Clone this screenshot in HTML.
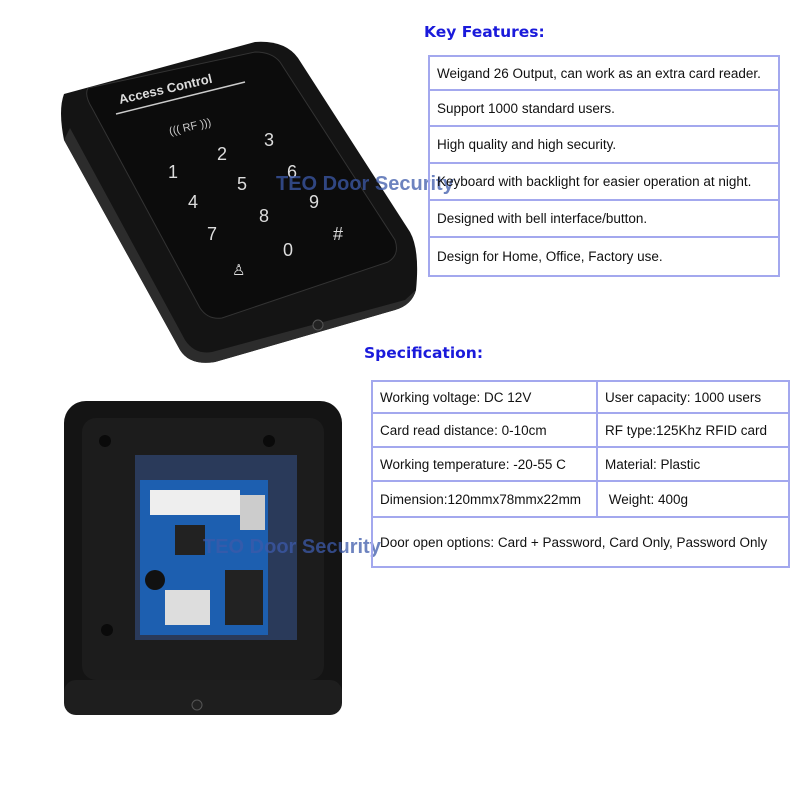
<!DOCTYPE html>
<html><head><style>
body{margin:0;width:800px;height:800px;background:#fff;position:relative;overflow:hidden;font-family:"Liberation Sans",Arial,sans-serif}
.h{position:absolute;color:#1a1adb;font-weight:bold;font-size:15.5px;font-family:"DejaVu Sans",sans-serif}
table{position:absolute;border-collapse:collapse;font-size:13.5px;color:#111;table-layout:fixed}
td{border:2px solid #a3a8ee;padding:0 7px;white-space:nowrap;overflow:hidden}
</style></head><body>
<svg width="800" height="800" style="position:absolute;left:0;top:0">
<path d="M64,94 L255,42 Q285,40 298,58 L410,232 Q420,250 416,290 Q412,305 395,310 L215,362 Q190,366 180,350 L64,140 Q58,110 64,94Z" fill="#141414"/>
<path d="M64,140 L180,350 Q190,366 215,362 L395,310 Q412,305 416,290 L405,300 L212,352 Q195,355 185,340 L70,128Z" fill="#2c2c2c"/>
<path d="M88,88 L255,52 Q272,52 280,62 L395,240 Q400,255 388,262 L222,318 Q208,320 200,308 L92,108 Q84,95 88,88Z" fill="#0c0c0c" stroke="#333" stroke-width="1"/>
<text x="120" y="104" fill="#ddd" font-size="13" font-weight="bold" transform="rotate(-13 120 104)">Access Control</text>
<line x1="116" y1="114" x2="245" y2="82" stroke="#ccc" stroke-width="1.5"/>
<text x="170" y="135" fill="#ccc" font-size="11" transform="rotate(-13 170 135)">((( RF )))</text>
<g fill="#ddd" font-size="18">
<text x="168" y="178">1</text><text x="217" y="160">2</text><text x="264" y="146">3</text>
<text x="188" y="208">4</text><text x="237" y="190">5</text><text x="287" y="178">6</text>
<text x="207" y="240">7</text><text x="259" y="222">8</text><text x="309" y="208">9</text>
<text x="232" y="275" font-size="15">♙</text><text x="283" y="256">0</text><text x="333" y="240">#</text>
</g>
<circle cx="318" cy="325" r="5" fill="#222" stroke="#555"/>
<rect x="64" y="401" width="278" height="314" rx="22" fill="#141414"/>
<rect x="82" y="418" width="242" height="262" rx="14" fill="#1c1c1c"/>
<rect x="64" y="680" width="278" height="35" rx="12" fill="#1e1e1e"/>
<circle cx="197" cy="705" r="5" fill="#222" stroke="#555"/>
<circle cx="105" cy="441" r="6" fill="#0a0a0a"/><circle cx="269" cy="441" r="6" fill="#0a0a0a"/>
<circle cx="107" cy="630" r="6" fill="#0a0a0a"/><circle cx="284" cy="630" r="6" fill="#0a0a0a"/>
<rect x="135" y="455" width="162" height="185" fill="#2a3a5a"/>
<rect x="140" y="480" width="128" height="155" fill="#1d5fb0"/>
<rect x="150" y="490" width="90" height="25" fill="#eee"/>
<rect x="175" y="525" width="30" height="30" fill="#222"/>
<circle cx="155" cy="580" r="10" fill="#111"/>
<rect x="165" y="590" width="45" height="35" fill="#ddd"/>
<rect x="225" y="570" width="38" height="55" fill="#222"/>
<rect x="240" y="495" width="25" height="35" fill="#ccc"/>
</svg>
<div style="position:absolute;left:276px;top:173px;font-size:20px;font-weight:bold;color:rgba(60,90,170,.75)">TEO Door Security</div>
<div style="position:absolute;left:203px;top:536px;font-size:20px;font-weight:bold;color:rgba(60,90,170,.75)">TEO Door Security</div>
<div class="h" style="left:424px;top:23px">Key Features:</div>
<table style="left:428px;top:55px;width:352px">
<tr style="height:34px"><td>Weigand 26 Output, can work as an extra card reader.</td></tr>
<tr style="height:36px"><td>Support 1000 standard users.</td></tr>
<tr style="height:37px"><td>High quality and high security.</td></tr>
<tr style="height:37px"><td>Keyboard with backlight for easier operation at night.</td></tr>
<tr style="height:37px"><td>Designed with bell interface/button.</td></tr>
<tr style="height:39px"><td>Design for Home, Office, Factory use.</td></tr>
</table>
<div class="h" style="left:364px;top:344px">Specification:</div>
<table style="left:371px;top:380px;width:419px">
<tr style="height:32px"><td style="width:209px">Working voltage: DC 12V</td><td>User capacity: 1000 users</td></tr>
<tr style="height:34px"><td>Card read distance: 0-10cm</td><td>RF type:125Khz RFID card</td></tr>
<tr style="height:34px"><td>Working temperature: -20-55 C</td><td>Material: Plastic</td></tr>
<tr style="height:36px"><td>Dimension:120mmx78mmx22mm</td><td>&nbsp;Weight: 400g</td></tr>
<tr style="height:50px"><td colspan="2">Door open options: Card + Password, Card Only, Password Only</td></tr>
</table>
</body></html>
